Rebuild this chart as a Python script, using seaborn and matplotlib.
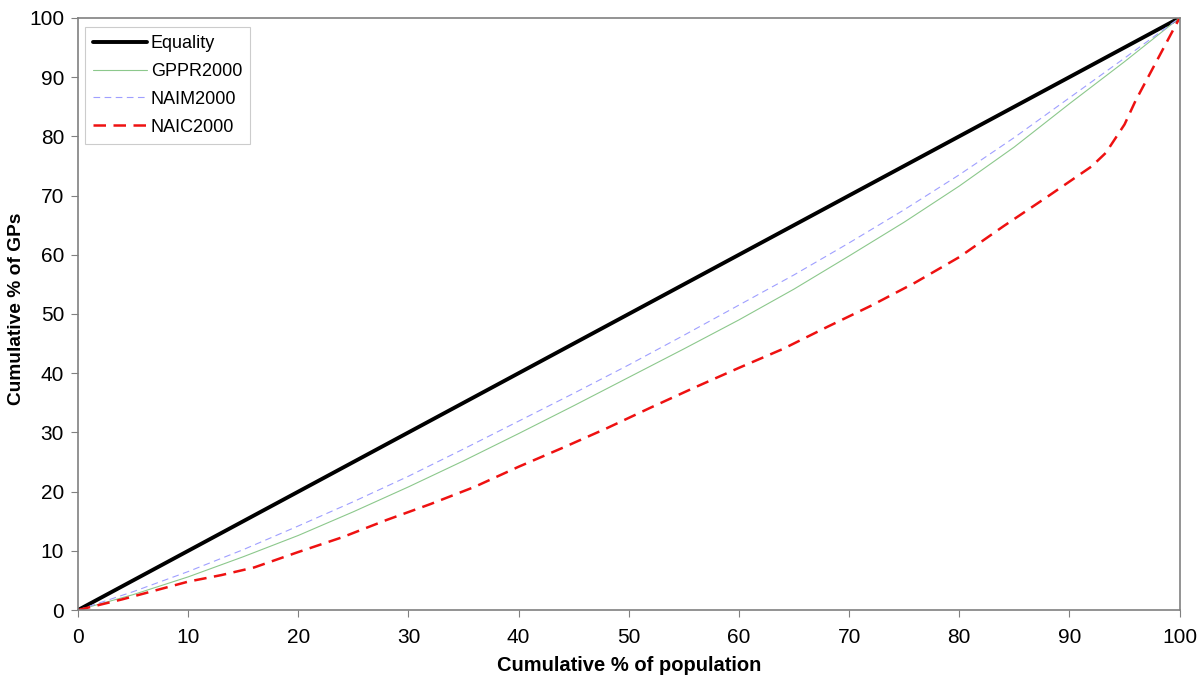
import numpy as np
import pandas as pd
import matplotlib
matplotlib.use('Agg')
import matplotlib.pyplot as plt
import seaborn as sns

# read data (values estimated from the reference chart)
equality_x = [0, 100]
equality_y = [0, 100]

gppr_x = [0, 5, 10, 15, 20, 25, 30, 35, 40, 45, 50, 55, 60, 65, 70, 75, 80, 85, 90, 95, 100]
gppr_y = [0, 2.6, 5.6, 9.0, 12.6, 16.6, 20.8, 25.2, 29.8, 34.5, 39.3, 44.1, 49.0, 54.2, 59.8, 65.5, 71.6, 78.2, 85.5, 92.6, 100]

naim_x = [0, 5, 10, 15, 20, 25, 30, 35, 40, 45, 50, 55, 60, 65, 70, 75, 80, 85, 90, 95, 100]
naim_y = [0, 3.1, 6.5, 10.2, 14.2, 18.3, 22.6, 27.2, 31.9, 36.6, 41.4, 46.4, 51.5, 56.6, 62.0, 67.6, 73.5, 79.8, 86.5, 93.2, 100]

naic_x = [0, 2, 4, 7, 10, 13, 16, 20, 24, 28, 32, 36, 40, 44, 48, 52, 56, 60, 64,
          68, 72, 76, 80, 84, 88, 92, 93.3, 95, 96, 98, 100]
naic_y = [0, 0.9, 1.8, 3.3, 4.8, 5.9, 7.2, 9.8, 12.3, 15.2, 17.9, 20.8, 24.2, 27.4, 30.7, 34.2, 37.6, 40.9, 44.1,
          47.8, 51.4, 55.3, 59.6, 64.8, 69.8, 74.9, 77.2, 82.0, 86.0, 93.0, 100]

# style set
sns.set_style('white')
plt.rcParams['font.family'] = ['Liberation Sans', 'DejaVu Sans']
plt.rcParams['text.color'] = 'black'
plt.rcParams['axes.labelcolor'] = 'black'
plt.rcParams['xtick.color'] = 'black'
plt.rcParams['ytick.color'] = 'black'

fig = plt.figure(figsize=(12, 6.87), dpi=100)
ax = fig.add_axes([0.065, 0.112, 0.918, 0.862])

# plot graph
sns.lineplot(x=equality_x, y=equality_y, ax=ax, color='black', linewidth=2.8, label='Equality')
sns.lineplot(x=gppr_x, y=gppr_y, ax=ax, color='#8cc88c', linewidth=0.8, label='GPPR2000')
sns.lineplot(x=naim_x, y=naim_y, ax=ax, color='#9f9fff', linewidth=0.8, label='NAIM2000',
             linestyle=(0, (6, 4)))
sns.lineplot(x=naic_x, y=naic_y, ax=ax, color='#ee1111', linewidth=1.8, label='NAIC2000',
             linestyle=(0, (5, 3)))

ax.set_xlim(0, 100)
ax.set_ylim(0, 100)
ax.set_xticks(range(0, 101, 10))
ax.set_yticks(range(0, 101, 10))
ax.tick_params(axis='both', labelsize=15, length=5, color='#808080', direction='out',
               labelcolor='black', bottom=True, left=True)
ax.tick_params(axis='x', pad=8)
ax.tick_params(axis='y', pad=5)
for s in ax.spines.values():
    s.set_color('#808080')
    s.set_linewidth(1.2)

ax.set_xlabel('Cumulative % of population', fontsize=14.5, fontweight='bold')
ax.set_ylabel('Cumulative % of GPs', fontsize=13.8, fontweight='bold')
ax.xaxis.set_label_coords(0.5, -0.077)
ax.yaxis.set_label_coords(-0.048, 0.508)

leg = ax.legend(loc='upper left', fontsize=13, frameon=True, fancybox=False,
                handlelength=3.0, handletextpad=0.2, borderpad=0.45, labelspacing=0.6,
                bbox_to_anchor=(-0.002, 1.0))
leg.get_frame().set_edgecolor('#c0c0c0')
leg.get_frame().set_linewidth(0.8)

fig.savefig('out.png', dpi=100)
